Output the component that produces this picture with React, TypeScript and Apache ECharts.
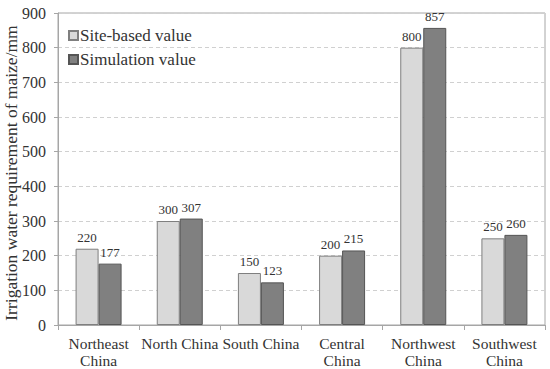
import React, { useEffect, useRef } from "react";
import * as echarts from "echarts";

const categories = ["Northeast\nChina", "North China", "South China", "Central\nChina", "Northwest\nChina", "Southwest\nChina"];
const siteBased = [220, 300, 150, 200, 800, 250];
const simulation = [177, 307, 123, 215, 857, 260];
const yTicks = { min: 0, max: 900, interval: 100 };

const FONT = "'Liberation Serif', 'Times New Roman', serif";

export default function App() {
  const ref = useRef<HTMLDivElement>(null);
  useEffect(() => {
    if (!ref.current) return;
    const chart = echarts.init(ref.current, undefined, { renderer: "svg" });
    chart.setOption({
      animation: false,
      backgroundColor: "#ffffff",
      textStyle: { fontFamily: FONT },
      grid: {
        left: 58, right: 5, top: 13, bottom: 44,
        show: true, borderColor: "#a6a6a6", borderWidth: 1, backgroundColor: "transparent",
        containLabel: false, outerBoundsMode: "none",
      },
      legend: {
        orient: "vertical",
        left: 63,
        top: 22,
        itemGap: 7,
        itemWidth: 9,
        itemHeight: 9,
        textStyle: { fontFamily: FONT, fontSize: 17, color: "#333", padding: [0, 0, 0, -3] },
        data: [
          { name: "Site-based value", icon: "rect" },
          { name: "Simulation value", icon: "rect" },
        ],
      },
      xAxis: {
        type: "category",
        data: categories,
        axisLine: { lineStyle: { color: "#a6a6a6" } },
        axisTick: { show: true, length: 5, lineStyle: { color: "#a6a6a6" } },
        axisLabel: { fontFamily: FONT, fontSize: 15.5, color: "#333", lineHeight: 17, margin: 10, interval: 0 },
      },
      yAxis: {
        type: "value",
        min: yTicks.min,
        max: yTicks.max,
        interval: yTicks.interval,
        name: "Irrigation water requirement of maize/mm",
        nameLocation: "middle",
        nameGap: 38,
        nameMoveOverlap: false,
        nameTextStyle: { fontFamily: FONT, fontSize: 17.5, color: "#333", padding: [0, 8, 0, 0] },
        axisLine: { show: true, lineStyle: { color: "#a6a6a6" } },
        axisTick: { show: true, length: 4, lineStyle: { color: "#a6a6a6" } },
        axisLabel: { fontFamily: FONT, fontSize: 16, color: "#333", margin: 12 },
        splitLine: { show: true, lineStyle: { color: "#d0d0d0", type: [4, 3] } },
      },
      series: [
        {
          name: "Site-based value",
          type: "bar",
          data: siteBased,
          barWidth: 23,
          barGap: "0%",
          itemStyle: { color: "#d9d9d9", borderColor: "#7f7f7f", borderWidth: 1 },
          label: { show: true, position: "top", fontFamily: FONT, fontSize: 13, color: "#333", distance: 5 },
        },
        {
          name: "Simulation value",
          type: "bar",
          data: simulation,
          barWidth: 23,
          barGap: "0%",
          itemStyle: { color: "#808080", borderColor: "#555555", borderWidth: 1 },
          label: { show: true, position: "top", fontFamily: FONT, fontSize: 13, color: "#333", distance: 5 },
        },
      ],
    });
    return () => chart.dispose();
  }, []);
  return <div ref={ref} style={{ width: 550, height: 369, position: "absolute", left: 0, top: 0 }} />;
}
